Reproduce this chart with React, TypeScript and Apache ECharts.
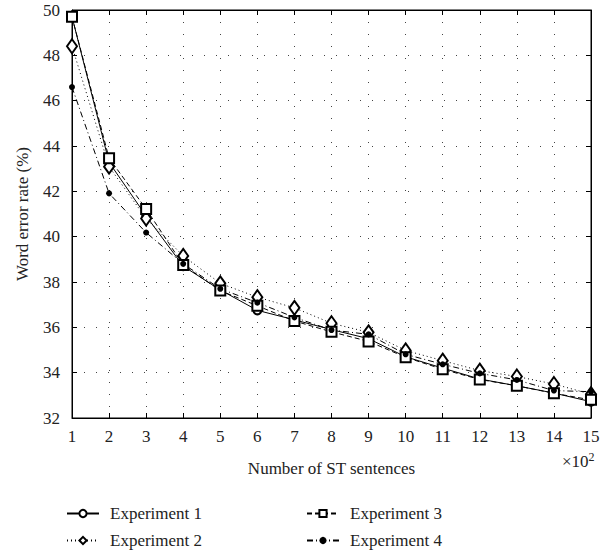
import React, { useEffect, useRef } from "react";
import * as echarts from "echarts";

const xValues = [1, 2, 3, 4, 5, 6, 7, 8, 9, 10, 11, 12, 13, 14, 15];
const exp1 = [49.7, 43.28, 40.91, 38.7, 37.65, 36.75, 36.33, 35.9, 35.5, 34.7, 34.2, 33.72, 33.42, 33.1, 32.72];
const exp2 = [48.4, 43.09, 40.8, 39.15, 37.94, 37.33, 36.86, 36.18, 35.78, 34.98, 34.53, 34.09, 33.83, 33.5, 33.05];
const exp3 = [49.7, 43.46, 41.22, 38.75, 37.62, 36.95, 36.28, 35.8, 35.38, 34.68, 34.15, 33.7, 33.42, 33.09, 32.8];
const exp4 = [46.6, 41.91, 40.18, 38.8, 37.7, 37.09, 36.44, 35.88, 35.69, 34.81, 34.37, 33.97, 33.68, 33.21, 33.16];
const seriesNames = ["Experiment 1", "Experiment 2", "Experiment 3", "Experiment 4"];

const FONT = "Liberation Serif";

export default function App() {
  const ref = useRef<HTMLDivElement>(null);
  useEffect(() => {
    if (!ref.current) return;
    const chart = echarts.init(ref.current, undefined, { renderer: "svg" });
    const mk = (arr: number[]) => xValues.map((x, i) => [x, arr[i]]);
    const baseSeries = (name: string, data: number[], symbol: string, symbolSize: any, lineType: any) => ({
      name,
      type: "line",
      data: mk(data),
      symbol,
      symbolSize,
      showSymbol: true,
      lineStyle: { color: "#000", width: 1, type: lineType },
      itemStyle: { color: "#000", borderWidth: 1 },
      emphasis: { disabled: true },
    });
    const gridLine = { show: true, lineStyle: { color: "#444", width: 1, type: [1, 11] } };
    const legendCommon = {
      orient: "vertical",
      top: 505,
      padding: 0,
      height: 51,
      itemWidth: 32,
      itemHeight: 9,
      itemGap: 10,
      textStyle: { fontFamily: FONT, fontSize: 17, color: "#222", padding: [0, 0, 0, 6] },
      selectedMode: false,
    };
    chart.setOption({
      animation: false,
      backgroundColor: "#fff",
      textStyle: { fontFamily: FONT },
      grid: { left: 72, right: 19, top: 10, bottom: 138, show: true, borderColor: "#000", borderWidth: 1 },
      xAxis: [
        {
          type: "value",
          min: 1,
          max: 15,
          interval: 1,
          name: "Number of ST sentences",
          nameLocation: "middle",
          nameGap: 42,
          nameTextStyle: { fontFamily: FONT, fontSize: 17, color: "#222" },
          axisLine: { show: true, lineStyle: { color: "#000" } },
          axisTick: { show: true, inside: true, length: 5, lineStyle: { color: "#000" } },
          axisLabel: { fontFamily: FONT, fontSize: 17, color: "#222", margin: 10 },
          splitLine: gridLine,
        },
        {
          type: "value",
          min: 1,
          max: 15,
          interval: 1,
          position: "top",
          axisLine: { show: true, lineStyle: { color: "#000" } },
          axisTick: { show: true, inside: true, length: 5, lineStyle: { color: "#000" } },
          axisLabel: { show: false },
          splitLine: { show: false },
        },
      ],
      yAxis: [
        {
          type: "value",
          min: 32,
          max: 50,
          interval: 2,
          name: "Word error rate (%)",
          nameLocation: "middle",
          nameGap: 41,
          nameTextStyle: { fontFamily: FONT, fontSize: 17, color: "#222" },
          axisLine: { show: true, lineStyle: { color: "#000" } },
          axisTick: { show: true, inside: true, length: 5, lineStyle: { color: "#000" } },
          axisLabel: { fontFamily: FONT, fontSize: 17, color: "#222", margin: 12 },
          splitLine: gridLine,
        },
        {
          type: "value",
          min: 32,
          max: 50,
          interval: 2,
          position: "right",
          axisLine: { show: true, lineStyle: { color: "#000" } },
          axisTick: { show: true, inside: true, length: 5, lineStyle: { color: "#000" } },
          axisLabel: { show: false },
          splitLine: { show: false },
        },
      ],
      legend: [
        { ...legendCommon, data: [seriesNames[0], seriesNames[1]], left: 66 },
        { ...legendCommon, data: [seriesNames[2], seriesNames[3]], left: 306 },
      ],
      graphic: [
        {
          type: "text",
          left: 562,
          top: 451,
          style: {
            text: "×10{sup|2}",
            fontFamily: FONT,
            fontSize: 17,
            fill: "#222",
            rich: { sup: { fontSize: 12, fontFamily: FONT, verticalAlign: "top", padding: [0, 0, 8, 0], fill: "#222" } },
          } as any,
        },
      ],
      series: [
        baseSeries(seriesNames[0], exp1, "emptyCircle", 8, "solid"),
        baseSeries(seriesNames[1], exp2, "emptyDiamond", [10, 14], [1, 3]),
        baseSeries(seriesNames[2], exp3, "emptyRect", 10, [5, 3]),
        baseSeries(seriesNames[3], exp4, "circle", 6, [6, 3, 1, 3]),
      ],
    });
    return () => chart.dispose();
  }, []);
  return <div ref={ref} style={{ position: "absolute", left: 0, top: 0, width: 610, height: 556 }} />;
}
